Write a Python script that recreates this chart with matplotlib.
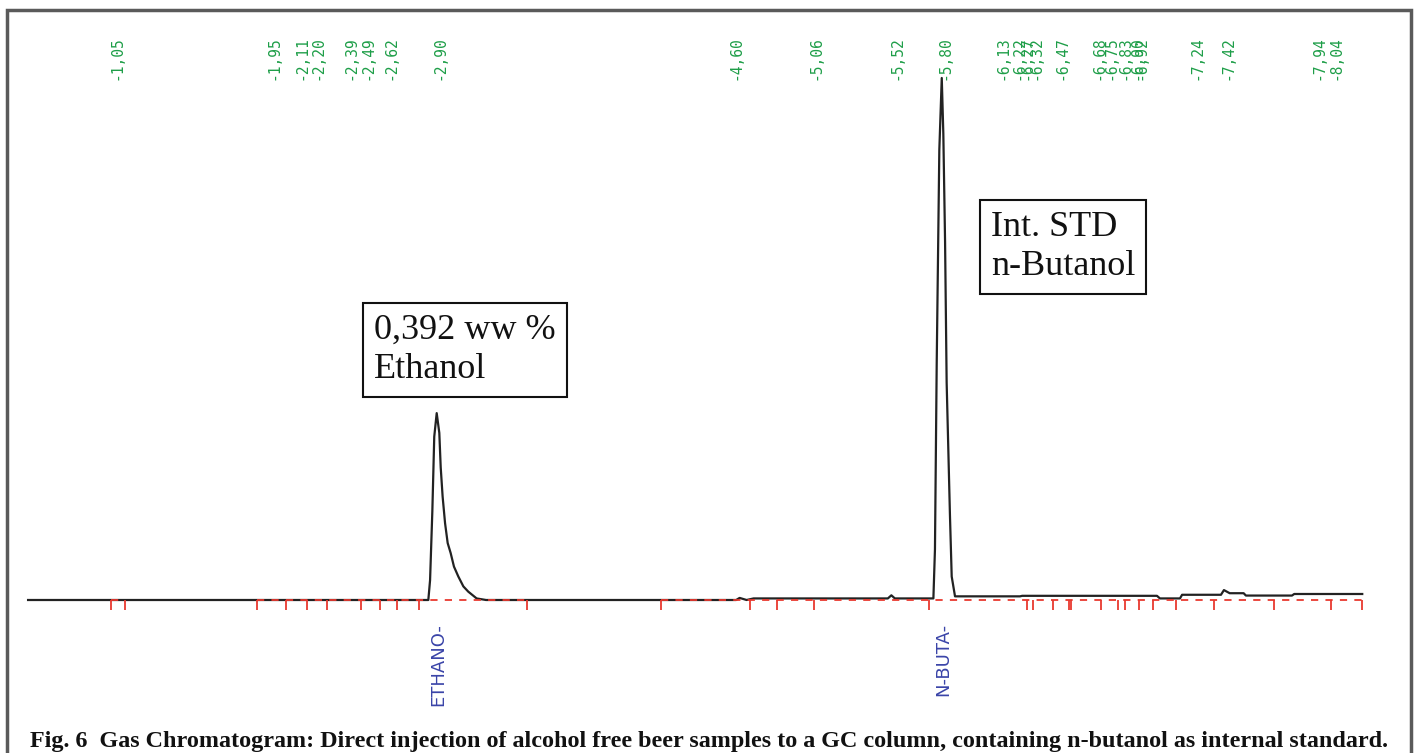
import matplotlib
matplotlib.use("Agg")
import matplotlib.pyplot as plt
from matplotlib.patches import Rectangle

# detector trace (time in min, signal in arbitrary units, n-butanol peak = 100)
time_min = [0.54, 2.835, 2.845, 2.858, 2.869, 2.883, 2.898, 2.906, 2.917, 2.931,
            2.946, 2.963, 2.982, 3.007, 3.036, 3.064, 3.112, 3.166, 4.60, 4.62,
            4.66, 4.70, 5.47, 5.49, 5.51, 5.731, 5.740, 5.750, 5.765, 5.779,
            5.788, 5.798, 5.807, 5.826, 5.836, 5.855, 6.228, 6.24, 7.013, 7.03,
            7.145, 7.157, 7.38, 7.397, 7.43, 7.51, 7.523, 7.787, 7.80, 8.19]
signal = [0, 0, 3.8, 17.0, 31.3, 35.8, 32.0, 25.4, 19.8, 14.7,
          10.9, 9.0, 6.4, 4.5, 2.6, 1.6, 0.3, 0, 0, 0.4,
          0, 0.3, 0.3, 0.9, 0.3, 0.3, 9.7, 45.2, 86.2, 100,
          89.3, 68.6, 41.7, 16.2, 4.5, 0.7, 0.7, 0.8, 0.8, 0.3,
          0.3, 1.0, 1.0, 1.9, 1.3, 1.3, 0.85, 0.85, 1.15, 1.15]

# retention times printed on top
ret_times = [1.05, 1.95, 2.11, 2.20, 2.39, 2.49, 2.62, 2.90, 4.60, 5.06, 5.52, 5.80,
             6.13, 6.22, 6.27, 6.32, 6.47, 6.68, 6.75, 6.83, 6.90, 6.92, 7.24, 7.42,
             7.94, 8.04]

# integration start/stop marks
event_times = [1.016, 1.096, 1.853, 2.019, 2.139, 2.254, 2.449, 2.558, 2.655, 2.782,
               3.401, 4.169, 4.679, 4.834, 5.046, 5.706, 6.268, 6.302, 6.417, 6.509,
               6.520, 6.692, 6.789, 6.830, 6.910, 6.991, 7.122, 7.340, 7.684, 8.011,
               8.188]

# integration baseline segments
base_segments = [(1.016, 1.096), (1.853, 3.401), (4.169, 8.188)]

# named peaks
peak_names = ["ETHANO-", "N-BUTA-"]
peak_times = [2.90, 5.80]

box_texts = ["0,392 ww %\nEthanol", "Int. STD\nn-Butanol"]
box_pos = [(2.525, 54.8), (6.063, 74.5)]

caption = ("Fig. 6  Gas Chromatogram: Direct injection of alcohol free beer samples "
           "to a GC column, containing n-butanol as internal standard.")

W, H = 1417, 753
fig = plt.figure(figsize=(W / 100, H / 100), dpi=100)
ax = fig.add_axes([0, 0, 1, 1])
ax.set_xlim(0.379, 8.504)
ax.set_ylim(-29.31, 114.94)
ax.axis("off")

# trace
ax.plot(time_min, signal, color="#222222", lw=1.6, zorder=3)

# dashed red baseline and event ticks
for a, b in base_segments:
    ax.plot([a, b], [0, 0], color="#e8392f", lw=1.3, ls=(0, (4, 4)), zorder=4)
ax.vlines(event_times, -1.9, 0, color="#e8392f", lw=1.3, zorder=4)

# retention time labels
for t in ret_times:
    ax.text(t, 99.6, "-" + f"{t:.2f}".replace(".", ","), rotation=90,
            ha="center", va="bottom", color="#1e9e48",
            family="DejaVu Sans Mono", fontsize=10.5)

# peak names
for t, name in zip(peak_times, peak_names):
    ax.text(t - 0.01, -4.4, name, rotation=90, ha="center", va="top",
            color="#3a44a8", family="DejaVu Sans", fontsize=13)

# annotation boxes
for (x, y), s in zip(box_pos, box_texts):
    ax.text(x, y, s, ha="left", va="top", family="Liberation Serif",
            fontsize=26, linespacing=1.25, color="#111111",
            bbox=dict(boxstyle="square,pad=0.3", fc="white", ec="#111111", lw=1.5))

# outer frame
fig.add_artist(Rectangle((7 / W, -0.02), (1411 - 7) / W, 1.02 - 10 / H,
                         transform=fig.transFigure, fill=False,
                         ec="#5a5a5a", lw=2.5))

fig.text(30 / W, 1 - 747 / H, caption, ha="left", va="baseline",
         family="Liberation Serif", fontweight="bold", fontsize=17.4, color="#111111")

fig.savefig("out.png", dpi=100, facecolor="white")
